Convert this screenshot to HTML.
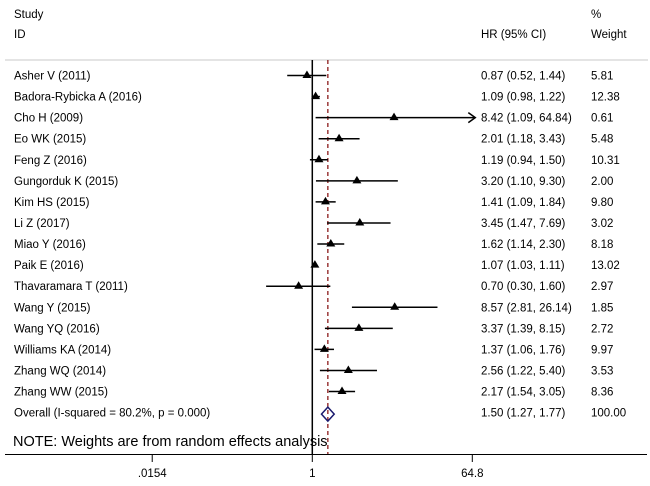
<!DOCTYPE html>
<html><head><meta charset="utf-8"><style>
html,body{margin:0;padding:0;background:#fff;}
svg{display:block;font-family:"Liberation Sans",Arial,sans-serif;}
</style></head><body>
<svg id="chart" width="650" height="486" viewBox="0 0 650 486" xmlns="http://www.w3.org/2000/svg">
<text x="14" y="18" font-size="11.5">Study</text>
<text x="14" y="38" font-size="11.5">ID</text>
<text x="481" y="38" font-size="11.5">HR (95% CI)</text>
<text x="591" y="18" font-size="11.5">%</text>
<text x="591" y="38" font-size="11.5">Weight</text>
<line x1="5" y1="60" x2="648" y2="60" stroke="#c8c8c8" stroke-width="1"/>
<g id="marks"></g>
<text x="13" y="446" font-size="14.5">NOTE: Weights are from random effects analysis</text>
<line x1="5" y1="454.5" x2="647" y2="454.5" stroke="#000" stroke-width="1"/>
<g id="axis"></g>
</svg>
<script>
const studies=["Asher V (2011)","Badora-Rybicka A (2016)","Cho H (2009)","Eo WK  (2015)","Feng Z (2016)","Gungorduk K (2015)","Kim HS (2015)","Li Z (2017)","Miao Y (2016)","Paik E (2016)","Thavaramara T (2011)","Wang Y (2015)","Wang YQ (2016)","Williams KA (2014)","Zhang WQ (2014)","Zhang WW (2015)"];
const hr=[0.87,1.09,8.42,2.01,1.19,3.20,1.41,3.45,1.62,1.07,0.70,8.57,3.37,1.37,2.56,2.17];
const lower=[0.52,0.98,1.09,1.18,0.94,1.10,1.09,1.47,1.14,1.03,0.30,2.81,1.39,1.06,1.22,1.54];
const upper=[1.44,1.22,64.84,3.43,1.50,9.30,1.84,7.69,2.30,1.11,1.60,26.14,8.15,1.76,5.40,3.05];
const weights=["5.81","12.38","0.61","5.48","10.31","2.00","9.80","3.02","8.18","13.02","2.97","1.85","2.72","9.97","3.53","8.36"];
const overall=[1.50,1.27,1.77];
const overallLabel="Overall  (I-squared = 80.2%, p = 0.000)";
const tickVals=[0.0154,1,64.8];
const tickLabels=[".0154","1","64.8"];
const axisMax=64.8;

const NS="http://www.w3.org/2000/svg";
const X0=312.3, K=160/Math.log(64.8);
const xs=v=>X0+Math.log(Math.min(v,axisMax))*K;
const rowY=i=>75.5+i*21.07;
const FS=11.5;
const marks=document.getElementById('marks'), axis=document.getElementById('axis');
function mk(tag,attrs,parent,txt){const e=document.createElementNS(NS,tag);for(const k in attrs)e.setAttribute(k,attrs[k]);if(txt!==undefined)e.textContent=txt;parent.appendChild(e);return e;}
const f2=v=>v.toFixed(2);

let e=mk('line',{x1:X0,y1:60,x2:X0,y2:454,stroke:'#000','stroke-width':1.5},marks);


e=mk('line',{x1:xs(overall[0]),y1:60,x2:xs(overall[0]),y2:454,stroke:'#8b1a1a','stroke-width':1.3,'stroke-dasharray':'4,3'},marks);



studies.forEach((s,i)=>{
  const y=rowY(i);
  let t=mk('text',{x:14,y:y+4,'font-size':FS},marks,s);
  
  
  const x1=xs(lower[i]), x2=xs(upper[i]);
  let l=mk('line',{x1:x1,y1:y,x2:upper[i]>axisMax?x2+2:x2,y2:y,stroke:'#000','stroke-width':1.5},marks);
  
  
  if(upper[i]>axisMax){
    const ax=x2+3;
    let a=mk('polyline',{points:`${ax-7},${y-5} ${ax},${y} ${ax-7},${y+5}`,fill:'none',stroke:'#000','stroke-width':1.5},marks);
    
    
  }
  const px=xs(hr[i]);
  let p=mk('polygon',{points:`${px-4.5},${y+2.5} ${px+4.5},${y+2.5} ${px},${y-5}`,fill:'#000'},marks);
  
  
  let h=mk('text',{x:481,y:y+4,'font-size':FS},marks,`${f2(hr[i])} (${f2(lower[i])}, ${f2(upper[i])})`);
  
  
  let w=mk('text',{x:591,y:y+4,'font-size':FS},marks,weights[i]);
  
  
});
const oy=rowY(16)+1.5;
let ot=mk('text',{x:14,y:oy+2.5,'font-size':FS},marks,overallLabel);


const oc=xs(overall[0]),ol=xs(overall[1]),ou=xs(overall[2]);
let d=mk('polygon',{points:`${ol},${oy} ${oc},${oy-7} ${ou},${oy} ${oc},${oy+7}`,fill:'none',stroke:'#1a1a6e','stroke-width':1.5},marks);


let oh=mk('text',{x:481,y:oy+2.5,'font-size':FS},marks,`${f2(overall[0])} (${f2(overall[1])}, ${f2(overall[2])})`);


let ow=mk('text',{x:591,y:oy+2.5,'font-size':FS},marks,'100.00');



tickVals.forEach((v,i)=>{
  const x=xs(v);
  let tk=mk('line',{x1:x,y1:454,x2:x,y2:462,stroke:'#000','stroke-width':1},axis);
  
  
  let tl=mk('text',{x:x,y:477,'font-size':FS,'text-anchor':'middle'},axis,tickLabels[i]);
  
  
});
</script>
</body></html>
